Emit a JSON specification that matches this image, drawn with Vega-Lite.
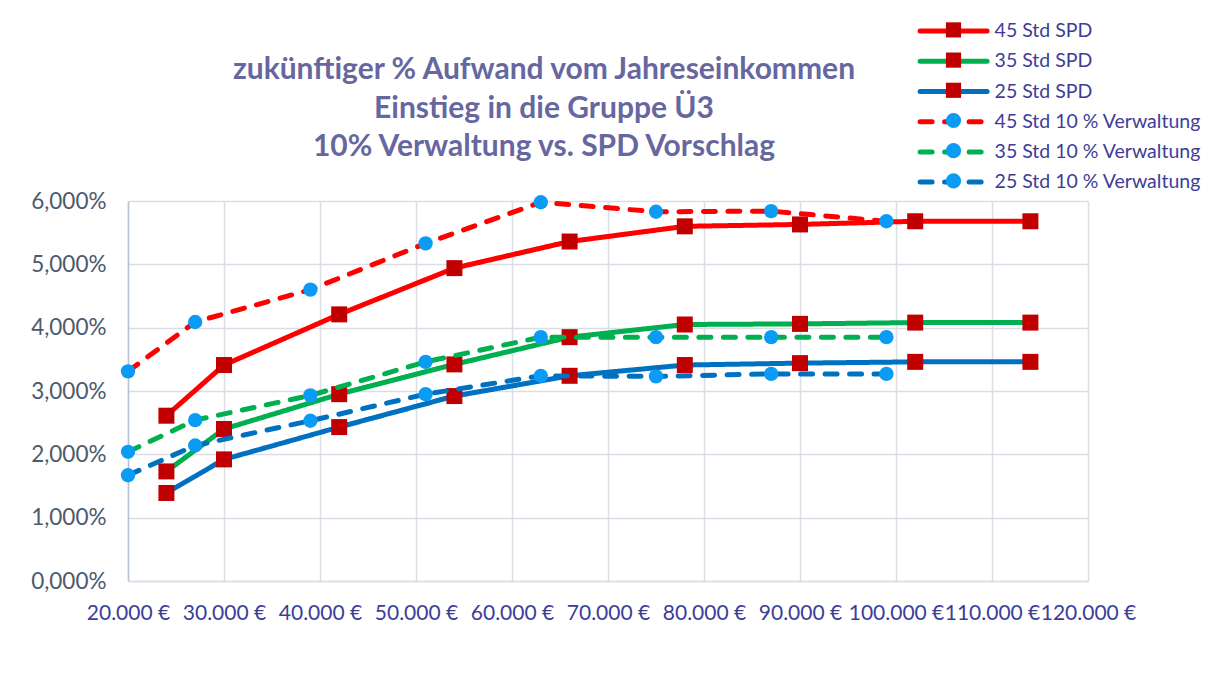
{
  "$schema": "https://vega.github.io/schema/vega-lite/v6.json",
  "autosize": "none",
  "width": 960,
  "height": 380,
  "padding": {"left": 128, "top": 201, "right": 131, "bottom": 112},
  "background": "white",
  "title": {
    "text": ["zukünftiger % Aufwand vom Jahreseinkommen", "Einstieg in die Gruppe Ü3", "10% Verwaltung vs. SPD Vorschlag"],
    "font": "Lato",
    "fontSize": 30,
    "fontWeight": "bold",
    "color": "#6767A0",
    "lineHeight": 38.5,
    "anchor": "middle",
    "frame": "group",
    "dx": -64,
    "offset": -142
  },
  "config": {
    "view": {"stroke": null},
    "font": "Lato"
  },
  "data": {
    "values": [
      {"s": "45 Std SPD", "m": "S45", "x": 24000, "y": 2.61},
      {"s": "45 Std SPD", "m": "S45", "x": 30000, "y": 3.41},
      {"s": "45 Std SPD", "m": "S45", "x": 42000, "y": 4.21},
      {"s": "45 Std SPD", "m": "S45", "x": 54000, "y": 4.94},
      {"s": "45 Std SPD", "m": "S45", "x": 66000, "y": 5.36},
      {"s": "45 Std SPD", "m": "S45", "x": 78000, "y": 5.60},
      {"s": "45 Std SPD", "m": "S45", "x": 90000, "y": 5.63},
      {"s": "45 Std SPD", "m": "S45", "x": 102000, "y": 5.68},
      {"s": "45 Std SPD", "m": "S45", "x": 114000, "y": 5.68},
      {"s": "35 Std SPD", "m": "S35", "x": 24000, "y": 1.73},
      {"s": "35 Std SPD", "m": "S35", "x": 30000, "y": 2.40},
      {"s": "35 Std SPD", "m": "S35", "x": 42000, "y": 2.95},
      {"s": "35 Std SPD", "m": "S35", "x": 54000, "y": 3.42},
      {"s": "35 Std SPD", "m": "S35", "x": 66000, "y": 3.85},
      {"s": "35 Std SPD", "m": "S35", "x": 78000, "y": 4.05},
      {"s": "35 Std SPD", "m": "S35", "x": 90000, "y": 4.06},
      {"s": "35 Std SPD", "m": "S35", "x": 102000, "y": 4.08},
      {"s": "35 Std SPD", "m": "S35", "x": 114000, "y": 4.08},
      {"s": "25 Std SPD", "m": "S25", "x": 24000, "y": 1.39},
      {"s": "25 Std SPD", "m": "S25", "x": 30000, "y": 1.92},
      {"s": "25 Std SPD", "m": "S25", "x": 42000, "y": 2.43},
      {"s": "25 Std SPD", "m": "S25", "x": 54000, "y": 2.92},
      {"s": "25 Std SPD", "m": "S25", "x": 66000, "y": 3.24},
      {"s": "25 Std SPD", "m": "S25", "x": 78000, "y": 3.41},
      {"s": "25 Std SPD", "m": "S25", "x": 90000, "y": 3.44},
      {"s": "25 Std SPD", "m": "S25", "x": 102000, "y": 3.46},
      {"s": "25 Std SPD", "m": "S25", "x": 114000, "y": 3.46},
      {"s": "45 Std 10 % Verwaltung", "m": "V45", "x": 20000, "y": 3.31},
      {"s": "45 Std 10 % Verwaltung", "m": "V45", "x": 27000, "y": 4.09},
      {"s": "45 Std 10 % Verwaltung", "m": "V45", "x": 39000, "y": 4.60},
      {"s": "45 Std 10 % Verwaltung", "m": "V45", "x": 51000, "y": 5.33},
      {"s": "45 Std 10 % Verwaltung", "m": "V45", "x": 63000, "y": 5.98},
      {"s": "45 Std 10 % Verwaltung", "m": "V45", "x": 75000, "y": 5.83},
      {"s": "45 Std 10 % Verwaltung", "m": "V45", "x": 87000, "y": 5.84},
      {"s": "45 Std 10 % Verwaltung", "m": "V45", "x": 99000, "y": 5.68},
      {"s": "35 Std 10 % Verwaltung", "m": "V35", "x": 20000, "y": 2.04},
      {"s": "35 Std 10 % Verwaltung", "m": "V35", "x": 27000, "y": 2.54},
      {"s": "35 Std 10 % Verwaltung", "m": "V35", "x": 39000, "y": 2.93},
      {"s": "35 Std 10 % Verwaltung", "m": "V35", "x": 51000, "y": 3.46},
      {"s": "35 Std 10 % Verwaltung", "m": "V35", "x": 63000, "y": 3.85},
      {"s": "35 Std 10 % Verwaltung", "m": "V35", "x": 75000, "y": 3.85},
      {"s": "35 Std 10 % Verwaltung", "m": "V35", "x": 87000, "y": 3.85},
      {"s": "35 Std 10 % Verwaltung", "m": "V35", "x": 99000, "y": 3.85},
      {"s": "25 Std 10 % Verwaltung", "m": "V25", "x": 20000, "y": 1.67},
      {"s": "25 Std 10 % Verwaltung", "m": "V25", "x": 27000, "y": 2.14},
      {"s": "25 Std 10 % Verwaltung", "m": "V25", "x": 39000, "y": 2.53},
      {"s": "25 Std 10 % Verwaltung", "m": "V25", "x": 51000, "y": 2.95},
      {"s": "25 Std 10 % Verwaltung", "m": "V25", "x": 63000, "y": 3.24},
      {"s": "25 Std 10 % Verwaltung", "m": "V25", "x": 75000, "y": 3.23},
      {"s": "25 Std 10 % Verwaltung", "m": "V25", "x": 87000, "y": 3.27},
      {"s": "25 Std 10 % Verwaltung", "m": "V25", "x": 99000, "y": 3.27}
    ]
  },
  "encoding": {
    "x": {
      "field": "x",
      "type": "quantitative",
      "scale": {"domain": [20000, 120000], "nice": false, "zero": false},
      "axis": {
        "title": null,
        "values": [20000, 30000, 40000, 50000, 60000, 70000, 80000, 90000, 100000, 110000, 120000],
        "labelExpr": "replace(format(datum.value, ',.0f'), ',', '.') + ' €'",
        "labelFont": "Lato",
        "labelFontSize": 21,
        "labelColor": "#3D3D99",
        "labelPadding": 21,
        "labelOverlap": false,
        "labelFlush": false,
        "ticks": false,
        "domainColor": "#D9DEE6",
        "domainWidth": 1.5,
        "gridColor": "#D9DEE6",
        "gridWidth": 1.5
      }
    },
    "y": {
      "field": "y",
      "type": "quantitative",
      "scale": {"domain": [0, 6], "nice": false},
      "axis": {
        "title": null,
        "values": [0, 1, 2, 3, 4, 5, 6],
        "labelExpr": "replace(format(datum.value, '.3f'), '.', ',') + '%'",
        "labelFont": "Lato",
        "labelFontSize": 22.5,
        "labelColor": "#4D5A6E",
        "labelPadding": 22,
        "ticks": false,
        "domainColor": "#B8C3D4",
        "domainWidth": 1.5,
        "gridColor": "#D9DEE6",
        "gridWidth": 1.5
      }
    }
  },
  "layer": [
    {
      "transform": [{"filter": {"field": "s", "oneOf": ["45 Std SPD", "35 Std SPD", "25 Std SPD"]}}],
      "mark": {"type": "line", "strokeWidth": 5, "strokeCap": "round", "strokeJoin": "round"},
      "encoding": {
        "stroke": {
          "field": "s", "type": "nominal",
          "scale": {"domain": ["45 Std SPD", "35 Std SPD", "25 Std SPD", "45 Std 10 % Verwaltung", "35 Std 10 % Verwaltung", "25 Std 10 % Verwaltung"],
                    "range": ["#FF0000", "#00B050", "#0070C0", "#FF0000", "#00B050", "#0070C0"]},
          "legend": {"orient": "none", "legendX": 814.6, "legendY": -180.9, "title": null, "padding": 0, "symbolType": "M-4,0H4", "symbolSize": 280.6, "symbolStrokeWidth": 5, "labelFont": "Lato", "labelFontSize": 19.5, "labelColor": "#3D3D99", "labelOffset": 30, "rowPadding": 9.2, "labelLimit": 400,
                     "encode": {"symbols": {"update": {"strokeCap": {"value": "round"}}}}}
        },
        "strokeDash": {
          "field": "s", "type": "nominal",
          "scale": {"domain": ["45 Std SPD", "35 Std SPD", "25 Std SPD", "45 Std 10 % Verwaltung", "35 Std 10 % Verwaltung", "25 Std 10 % Verwaltung"],
                    "range": [[1, 0], [1, 0], [1, 0], [12, 12.5], [12, 12.5], [12, 12.5]]},
          "legend": {"orient": "none", "legendX": 814.6, "legendY": -180.9, "title": null, "padding": 0, "symbolType": "M-4,0H4", "symbolSize": 280.6, "symbolStrokeWidth": 5, "labelFont": "Lato", "labelFontSize": 19.5, "labelColor": "#3D3D99", "labelOffset": 30, "rowPadding": 9.2, "labelLimit": 400,
                     "encode": {"symbols": {"update": {"strokeCap": {"value": "round"}}}}}
        }
      }
    },
    {
      "transform": [{"filter": {"field": "s", "oneOf": ["45 Std SPD", "35 Std SPD", "25 Std SPD"]}}],
      "mark": {"type": "point", "filled": true, "opacity": 1, "size": 256, "strokeWidth": 0},
      "encoding": {
        "fill": {
          "field": "m", "type": "nominal",
          "scale": {"domain": ["S45", "S35", "S25", "V45", "V35", "V25"], "range": ["#C00000", "#C00000", "#C00000", "#0A9CF5", "#0A9CF5", "#0A9CF5"]},
          "legend": {"orient": "none", "legendX": 817.5, "legendY": -179.1, "title": null, "padding": 0, "symbolSize": 230, "symbolStrokeWidth": 0, "labelExpr": "''", "labelFontSize": 1, "labelOffset": 0, "rowPadding": 14.2}
        },
        "shape": {
          "field": "m", "type": "nominal",
          "scale": {"domain": ["S45", "S35", "S25", "V45", "V35", "V25"], "range": ["square", "square", "square", "circle", "circle", "circle"]},
          "legend": {"orient": "none", "legendX": 817.5, "legendY": -179.1, "title": null, "padding": 0, "symbolSize": 230, "symbolStrokeWidth": 0, "labelExpr": "''", "labelFontSize": 1, "labelOffset": 0, "rowPadding": 14.2}
        }
      }
    },
    {
      "transform": [{"filter": {"field": "s", "oneOf": ["45 Std 10 % Verwaltung", "35 Std 10 % Verwaltung", "25 Std 10 % Verwaltung"]}}],
      "mark": {"type": "line", "strokeWidth": 5, "strokeCap": "round", "strokeJoin": "round"},
      "encoding": {
        "stroke": {"field": "s", "type": "nominal"},
        "strokeDash": {"field": "s", "type": "nominal"}
      }
    },
    {
      "transform": [{"filter": {"field": "s", "oneOf": ["45 Std 10 % Verwaltung", "35 Std 10 % Verwaltung", "25 Std 10 % Verwaltung"]}}],
      "mark": {"type": "point", "filled": true, "opacity": 1, "size": 205, "strokeWidth": 0},
      "encoding": {
        "fill": {"field": "m", "type": "nominal"},
        "shape": {"field": "m", "type": "nominal"}
      }
    }
  ]
}
